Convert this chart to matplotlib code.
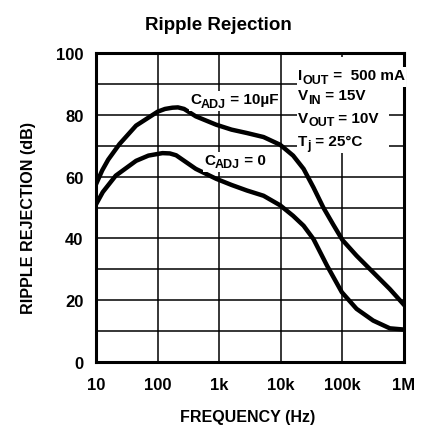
import numpy as np
import matplotlib
matplotlib.use('Agg')
import matplotlib.pyplot as plt
from matplotlib.patches import Rectangle

# values
freq_hz = [10, 12.6, 15.8, 24, 44.7, 100, 132, 174, 214, 269, 417, 891, 1585, 2818, 5248,
           9772, 15849, 23442, 33884, 48978, 70795, 100000, 169824, 316228, 588844, 1000000]
rej_cadj_10uf = [57.5, 62.0, 65.5, 70.5, 76.5, 81.0, 81.9, 82.3, 82.4, 81.9, 79.5, 76.8, 75.2,
                 74.1, 72.8, 70.3, 66.8, 62.5, 56.5, 50.0, 44.5, 39.5, 34.4, 29.0, 23.6, 18.5]

freq_hz_0 = [10, 12.9, 20.9, 44.7, 71, 120, 158, 200, 417, 891, 1585, 2818, 5248,
             9772, 15849, 23442, 33884, 56234, 97724, 169824, 316228, 588844, 1000000]
rej_cadj_0 = [51.0, 55.0, 60.3, 65.1, 66.8, 67.6, 67.5, 66.9, 62.5, 59.3, 57.3, 55.5, 53.8,
              50.7, 47.3, 44.1, 39.8, 31.2, 22.6, 17.2, 13.4, 10.9, 10.5]

xtick_vals = [10, 100, 1000, 10000, 100000, 1000000]
xtick_labels = ['10', '100', '1k', '10k', '100k', '1M']
ytick_vals = [0, 20, 40, 60, 80, 100]

plt.rcParams['font.family'] = ['Liberation Sans', 'DejaVu Sans']
plt.rcParams['font.weight'] = 'bold'

W, H = 426, 435
fig = plt.figure(figsize=(W / 100, H / 100), dpi=100)
ax = fig.add_axes([96 / W, 1 - 363 / H, (404 - 96) / W, (363 - 54) / H])

ax.plot(freq_hz, rej_cadj_10uf, color='black', lw=3.2, solid_joinstyle='round', zorder=4)
ax.plot(freq_hz_0, rej_cadj_0, color='black', lw=3.2, solid_joinstyle='round', zorder=4)

ax.set_xscale('log')
ax.set_xlim(10, 1e6)
ax.set_ylim(0, 100)
ax.set_xticks(xtick_vals)
ax.set_xticklabels(xtick_labels)
ax.xaxis.set_minor_locator(matplotlib.ticker.NullLocator())
ax.set_yticks(ytick_vals)
ax.set_yticks(np.arange(10, 100, 20), minor=True)
ax.grid(True, which='both', color='black', lw=1.1)
ax.tick_params(which='both', length=0)
ax.tick_params(axis='y', pad=9, labelsize=12)
ax.tick_params(axis='x', pad=11, labelsize=12)
for s in ax.spines.values():
    s.set_linewidth(2.2)
    s.set_zorder(7)

fig.text(218 / W, 1 - 25 / H, 'Ripple Rejection', ha='center', va='center', fontsize=13.5)
fig.text(248 / W, 1 - 418 / H, 'FREQUENCY (Hz)', ha='center', va='center', fontsize=11.5)
fig.text(28 / W, 1 - 218 / H, 'RIPPLE REJECTION (dB)', ha='center', va='center',
         rotation=90, fontsize=11.6)

# labels with big, dropped subscripts: place the pieces one after another,
# then put one white patch behind the whole label
renderer = fig.canvas.get_renderer()


def white_box(x0, y0, x1, y1):
    # pixel coords, y from the bottom
    fig.add_artist(Rectangle((x0 / W, y0 / H), (x1 - x0) / W, (y1 - y0) / H,
                             transform=fig.transFigure, facecolor='white',
                             edgecolor='none', zorder=5))


def rich_text(x_px, base_px, pieces):
    x = x_px
    x0, y0, x1, y1 = [], [], [], []
    for s, size, drop in pieces:
        t = fig.text(x / W, 1 - (base_px + drop) / H, s, ha='left', va='baseline',
                     fontsize=size, zorder=6)
        bb = t.get_window_extent(renderer)
        x0.append(bb.x0); y0.append(bb.y0); x1.append(bb.x1); y1.append(bb.y1)
        x = bb.x1
    pad = 1.5
    white_box(min(x0) - pad, min(y0) - pad, max(x1) + pad, max(y1) + pad)


main, sub, drop = 11, 9, 3.5
# blank block behind the test conditions
white_box(297, H - 148, 389, H - 58)
rich_text(298, 80, [('I', main, 0), ('OUT', sub, drop), (' =  500 mA', main, 0)])
rich_text(298, 100, [('V', main, 0), ('IN', sub, drop), (' = 15V', main, 0)])
rich_text(298, 123, [('V', main, 0), ('OUT', sub, drop), (' = 10V', main, 0)])
rich_text(298, 146, [('T', main, 0), ('j', sub, drop), (' = 25°C', main, 0)])
rich_text(190, 104, [('C', main, 0), ('ADJ', sub, drop), (' = 10µF', main, 0)])
rich_text(204, 165, [('C', main, 0), ('ADJ', sub, drop), (' = 0', main, 0)])

fig.savefig('out.png', dpi=100)
